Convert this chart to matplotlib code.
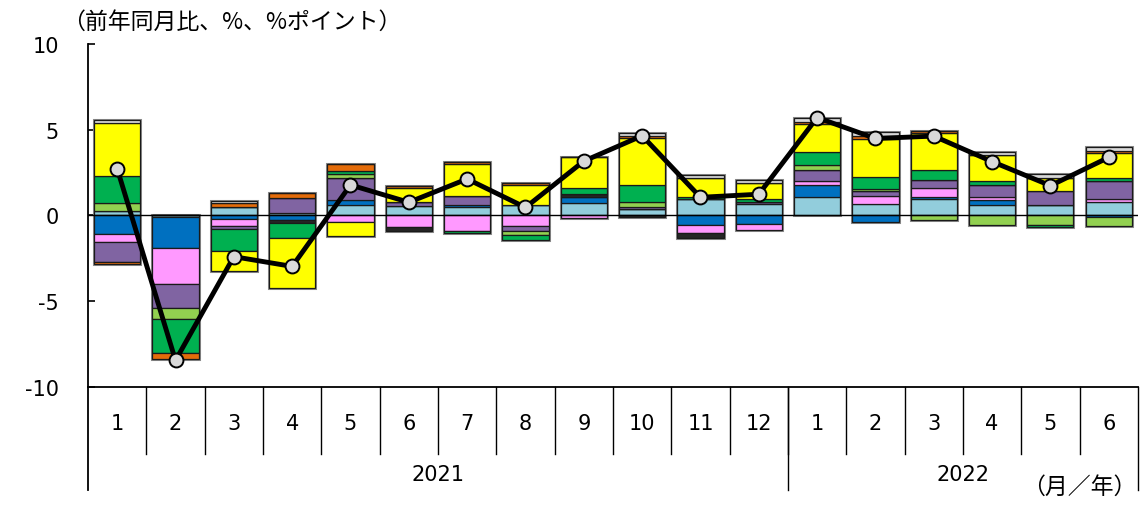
import numpy as np
import matplotlib
matplotlib.use('Agg')
import matplotlib.pyplot as plt
import matplotlib.transforms as mtransforms

plt.rcParams['font.family'] = ['DejaVu Sans', 'Noto Sans CJK JP']

months = ['1', '2', '3', '4', '5', '6', '7', '8', '9', '10', '11', '12',
          '1', '2', '3', '4', '5', '6']
years = ['2021', '2022']
year_len = [12, 6]

# components, stacked from zero outward in this order
lightblue = [0.27, -0.10, 0.50, 0.16, 0.62, 0.53, 0.50, 0.62, 0.75, 0.37, 0.95, 0.66, 1.06, 0.67, 0.95, 0.62, 0.62, 0.77]
darkblue = [-1.09, -1.78, -0.19, -0.25, 0.29, 0.05, 0.12, 0.0, 0.33, 0.0, -0.55, -0.47, 0.72, -0.37, 0.15, 0.29, 0.0, -0.10]
pink = [-0.48, -2.13, -0.41, 0.0, -0.39, -0.68, -0.93, -0.64, -0.15, 0.0, -0.45, -0.38, 0.23, 0.47, 0.49, 0.19, 0.0, 0.20]
purple = [-1.12, -1.38, -0.21, 0.87, 1.30, 0.23, 0.54, -0.26, 0.0, 0.15, 0.0, 0.15, 0.64, 0.26, 0.48, 0.68, 0.78, 1.04]
black = [0.0, 0.0, 0.0, -0.21, 0.0, -0.25, 0.0, 0.0, 0.16, -0.08, -0.30, 0.0, 0.0, 0.0, 0.0, 0.0, 0.0, 0.0]
lightgreen = [0.47, -0.62, 0.0, 0.0, 0.21, 0.0, 0.0, -0.25, 0.0, 0.27, 0.0, 0.0, 0.29, 0.15, -0.29, -0.55, -0.58, -0.50]
green = [1.57, -2.03, -1.24, -0.87, 0.20, 0.0, -0.11, -0.29, 0.39, 0.99, 0.14, 0.14, 0.74, 0.68, 0.58, 0.23, -0.12, 0.20]
yellow = [3.06, 0.0, -1.19, -2.92, -0.83, 0.82, 1.86, 1.16, 1.80, 2.71, 1.10, 0.97, 1.65, 2.22, 2.18, 1.51, 0.77, 1.43]
orange = [-0.14, -0.33, 0.20, 0.29, 0.40, 0.11, 0.12, 0.12, 0.0, 0.12, 0.0, 0.0, 0.14, 0.20, 0.11, 0.0, 0.0, 0.12]
gray = [0.21, 0.0, 0.13, 0.0, 0.0, 0.0, 0.0, 0.0, 0.0, 0.19, 0.20, 0.17, 0.24, 0.23, 0.0, 0.16, 0.25, 0.25]

total = [2.73, -8.45, -2.40, -2.97, 1.78, 0.77, 2.13, 0.47, 3.17, 4.65, 1.06, 1.24, 5.71, 4.49, 4.63, 3.14, 1.74, 3.39]

series = [lightblue, darkblue, pink, purple, black, lightgreen, green, yellow, orange, gray]
colors = ['#92CDDC', '#0070C0', '#FF99FF', '#8064A2', '#262626', '#92D050', '#00B050', '#FFFF00', '#E46C0A', '#D9D9D9']

fig = plt.figure(figsize=(11.4, 5.06), dpi=100)
ax = fig.add_axes([0.0772, 0.2332, 0.9210, 0.6779])

x = np.arange(len(months))
pos = np.zeros(len(x))
neg = np.zeros(len(x))
for vals, c in zip(series, colors):
    v = np.array(vals)
    base = np.where(v >= 0, pos, neg)
    ax.bar(x, v, 0.79, bottom=base, color=c, edgecolor='#1a1a1a', linewidth=0.9, zorder=2)
    pos = pos + np.where(v > 0, v, 0)
    neg = neg + np.where(v < 0, v, 0)
# soft gray outline round each whole bar
ax.bar(x, pos - neg, 0.79, bottom=neg, color='none', edgecolor='#8c8c8c', linewidth=2.2, zorder=1.9)

ax.axhline(0, color='black', lw=1, zorder=3)
ax.plot(x, total, color='black', lw=3.5, marker='o', ms=10, mfc='#D9D9D9', mec='black', mew=1.4, zorder=4)

ax.set_xlim(-0.5, len(x) - 0.5)
ax.set_ylim(-10, 10)
ax.set_yticks([-10, -5, 0, 5, 10])
ax.set_yticklabels(['-10', '-5', '0', '5', '10'])
ax.tick_params(axis='y', direction='in', length=5, width=1.2, pad=21, labelsize=15)
ax.set_xticks([])
for s in ['top', 'right']:
    ax.spines[s].set_visible(False)
ax.spines['left'].set_linewidth(1.3)
ax.spines['bottom'].set_linewidth(1.3)

trans = mtransforms.blended_transform_factory(ax.transData, ax.transAxes)
# month labels and separators
for i, m in enumerate(months):
    ax.text(i, -0.105, m, transform=trans, ha='center', va='center', fontsize=15)
for i in range(1, len(months)):
    ax.plot([i - 0.5, i - 0.5], [0, -0.195], transform=trans, color='black', lw=1, clip_on=False)
# year labels and separators
start = 0
ax.plot([-0.5, -0.5], [0, -0.30], transform=trans, color='black', lw=1.3, clip_on=False)
for y, n in zip(years, year_len):
    ax.text(start + (n - 1) / 2, -0.254, y, transform=trans, ha='center', va='center', fontsize=15)
    start += n
    ax.plot([start - 0.5, start - 0.5], [0, -0.30], transform=trans, color='black', lw=1, clip_on=False)

fig.text(0.054, 0.955, '（前年同月比、%、%ポイント）', fontsize=16.5, family=['Noto Sans CJK JP'], va='center', ha='left')
fig.text(0.997, 0.036, '（月／年）', fontsize=16.5, family=['Noto Sans CJK JP'], va='center', ha='right')

fig.savefig('out.png', dpi=100)
